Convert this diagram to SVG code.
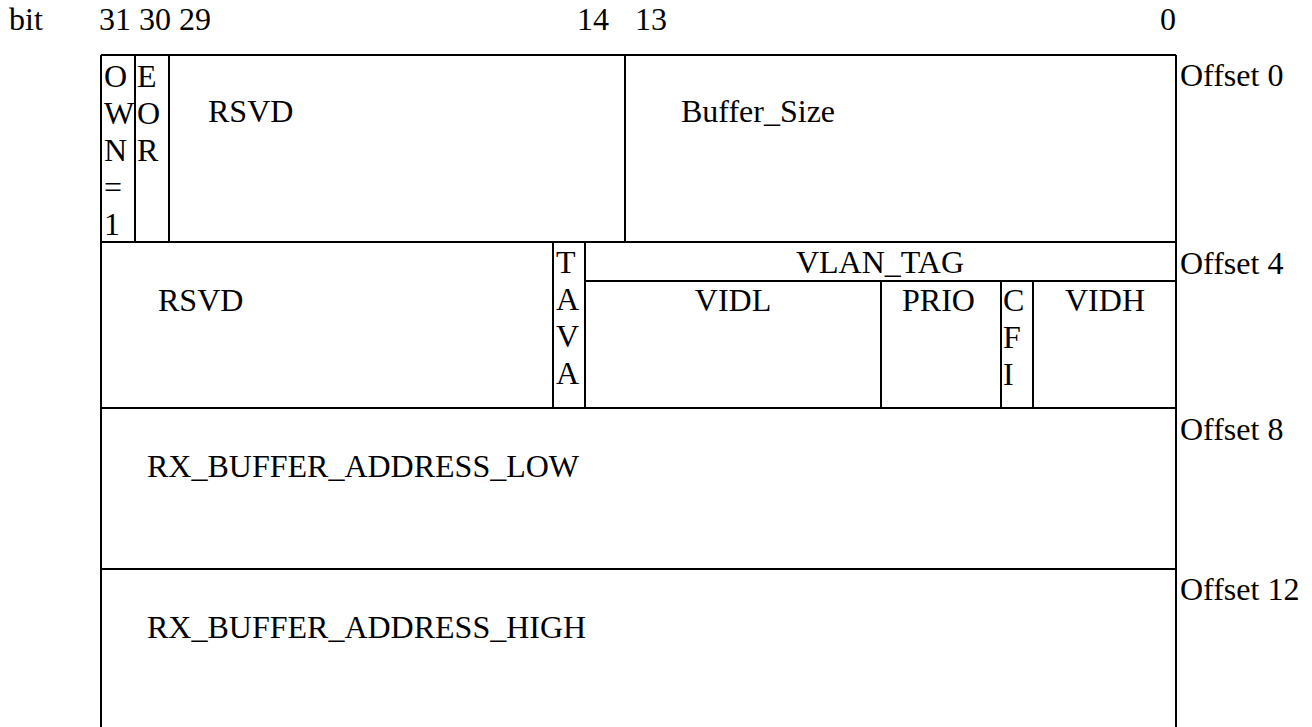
<svg xmlns="http://www.w3.org/2000/svg" width="1312" height="727" viewBox="0 0 1312 727">
<style>
text{font-family:"Liberation Serif","Times New Roman",serif;font-size:32px;fill:#000}
.l{stroke:#000;stroke-width:2;fill:none}
</style>
<rect width="1312" height="727" fill="#fff"/>
<g id="header">
<text x="9" y="30">bit</text>
<text x="99" y="30">31 30 29</text>
<text x="577" y="30">14</text>
<text x="635" y="30">13</text>
<text x="1160" y="30">0</text>
</g>
<g id="grid" class="l">
<path d="M101 55H1176M101 242H1176M101 408H1176M101 569H1176M101 55V727M1176 55V727"/>
<path d="M135 55V242M169 55V242M625 55V242"/>
<path d="M553 242V408M585 242V408M585 281H1176M881 281V408M1001 281V408M1033 281V408"/>
</g>
<g id="row0">
<text x="104" y="87">O</text><text x="104" y="124">W</text><text x="104" y="161">N</text><text x="104" y="198">=</text><text x="104" y="235">1</text>
<text x="137" y="87">E</text><text x="137" y="124">O</text><text x="137" y="161">R</text>
<text x="208" y="122">RSVD</text>
<text x="681" y="122">Buffer_Size</text>
<text x="1180" y="86">Offset 0</text>
</g>
<g id="row1">
<text x="158" y="311">RSVD</text>
<text x="556" y="273">T</text><text x="556" y="310">A</text><text x="556" y="347">V</text><text x="556" y="384">A</text>
<text x="880" y="273" text-anchor="middle">VLAN_TAG</text>
<text x="733" y="311" text-anchor="middle">VIDL</text>
<text x="902" y="311">PRIO</text>
<text x="1003" y="311">C</text><text x="1003" y="348">F</text><text x="1003" y="385">I</text>
<text x="1065" y="311">VIDH</text>
<text x="1180" y="274">Offset 4</text>
</g>
<g id="row2">
<text x="147" y="477">RX_BUFFER_ADDRESS_LOW</text>
<text x="1180" y="440">Offset 8</text>
</g>
<g id="row3">
<text x="147" y="638">RX_BUFFER_ADDRESS_HIGH</text>
<text x="1180" y="600">Offset 12</text>
</g>
</svg>
